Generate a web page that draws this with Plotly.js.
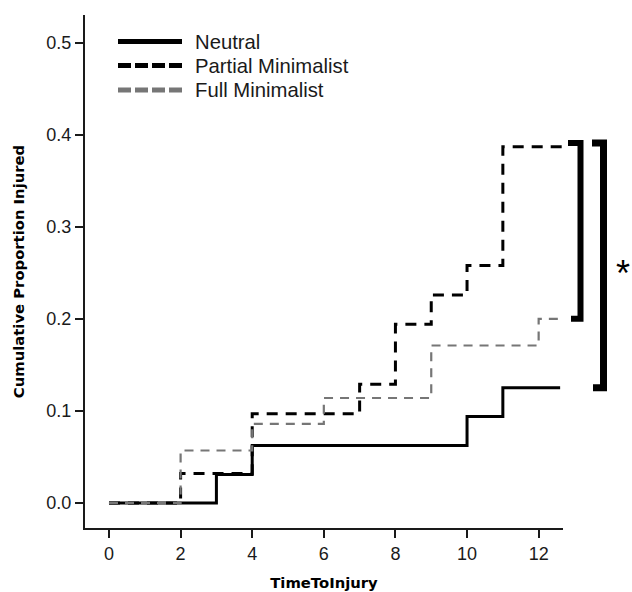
<!DOCTYPE html>
<html>
<head>
<meta charset="utf-8">
<script src="https://cdn.plot.ly/plotly-3.0.1.min.js"></script>
<style>html,body{margin:0;padding:0;background:#fff;}#chart{width:632px;height:592px;}</style>
</head>
<body>
<div id="chart"></div>
<script>
// Data (Kaplan-Meier style cumulative proportion injured)
const seriesNames = ["Neutral", "Partial Minimalist", "Full Minimalist"];
const neutralTime = [0, 3, 4, 10, 11, 12.6];
const neutralProp = [0, 0.031, 0.0625, 0.094, 0.125, 0.125];
const partialTime = [0, 2, 4, 7, 8, 9, 10, 11, 12.68];
const partialProp = [0, 0.032, 0.097, 0.129, 0.194, 0.226, 0.258, 0.387, 0.387];
const fullTime = [0, 2, 4, 6, 9, 12, 12.6];
const fullProp = [0, 0.057, 0.086, 0.114, 0.171, 0.2, 0.2];
const xTicks = [0, 2, 4, 6, 8, 10, 12];
const yTicks = [0, 0.1, 0.2, 0.3, 0.4, 0.5];
const yTickText = ["0.0", "0.1", "0.2", "0.3", "0.4", "0.5"];
const significanceMark = "*";

const gray = "#767676";
const ink = "#1a1a1a";

const traces = [
  {x: neutralTime, y: neutralProp, name: seriesNames[0], mode: "lines",
   line: {shape: "hv", color: "#000", width: 3}},
  {x: partialTime, y: partialProp, name: seriesNames[1], mode: "lines",
   line: {shape: "hv", color: "#000", width: 3, dash: "11px,8px"}},
  {x: fullTime, y: fullProp, name: seriesNames[2], mode: "lines",
   line: {shape: "hv", color: gray, width: 2.2, dash: "9px,7px"}}
];

const pTop = partialProp[partialProp.length - 1] + 0.004;
const fEnd = fullProp[fullProp.length - 1];
const nEnd = neutralProp[neutralProp.length - 1];

// plot-area geometry helpers for legend placement (paper coords)
const L = 85, R = 563, T = 15, B = 528;
const px = v => (v - L) / (R - L);
const py = v => (B - v) / (B - T);

const shapes = [
  // significance brackets
  {type: "path", xref: "paper", yref: "y",
   path: `M ${px(568)},${pTop} L ${px(580.5)},${pTop} L ${px(580.5)},${fEnd} L ${px(571)},${fEnd}`,
   line: {color: "#000", width: 6}},
  {type: "path", xref: "paper", yref: "y",
   path: `M ${px(592)},${pTop} L ${px(603.5)},${pTop} L ${px(603.5)},${nEnd} L ${px(593)},${nEnd}`,
   line: {color: "#000", width: 7}},
  // legend samples
  {type: "line", xref: "paper", yref: "paper", x0: px(118), x1: px(182), y0: py(41.5), y1: py(41.5),
   line: {color: "#000", width: 5}},
  {type: "line", xref: "paper", yref: "paper", x0: px(118), x1: px(182), y0: py(65.5), y1: py(65.5),
   line: {color: "#000", width: 5, dash: "13px,4px"}},
  {type: "line", xref: "paper", yref: "paper", x0: px(118), x1: px(182), y0: py(90), y1: py(90),
   line: {color: gray, width: 5, dash: "13px,4px"}}
];

const legFont = {family: "Liberation Sans, Arial, sans-serif", size: 20.3, color: ink};
const annotations = [
  {xref: "paper", yref: "paper", x: px(193), y: py(41.5), xanchor: "left", yanchor: "middle",
   text: seriesNames[0], showarrow: false, font: legFont},
  {xref: "paper", yref: "paper", x: px(193), y: py(65.5), xanchor: "left", yanchor: "middle",
   text: seriesNames[1], showarrow: false, font: legFont},
  {xref: "paper", yref: "paper", x: px(193), y: py(90), xanchor: "left", yanchor: "middle",
   text: seriesNames[2], showarrow: false, font: legFont},
  {xref: "paper", yref: "paper", x: px(623), y: py(273), xanchor: "center", yanchor: "middle",
   text: significanceMark, showarrow: false,
   font: {family: "Liberation Sans, Arial, sans-serif", size: 36, color: "#000"}}
];

const tickFont = {family: "Liberation Sans, Arial, sans-serif", size: 18, color: ink};
const titleFont = {family: "DejaVu Sans, sans-serif", size: 14.8, color: "#000", weight: "bold"};

const layout = {
  width: 632, height: 592,
  margin: {l: L, r: 632 - R, t: T, b: 592 - B, pad: 0},
  paper_bgcolor: "#fff", plot_bgcolor: "#fff",
  showlegend: false,
  xaxis: {
    range: [-0.67, 12.68], tickvals: xTicks, ticktext: xTicks.map(String),
    showgrid: false, zeroline: false, showline: true, linecolor: ink, linewidth: 2,
    ticks: "outside", ticklen: 8, tickwidth: 2, tickcolor: ink, tickfont: tickFont,
    title: {text: "TimeToInjury", font: titleFont, standoff: 15}
  },
  yaxis: {
    range: [-0.0272, 0.530], tickvals: yTicks, ticktext: yTickText,
    showgrid: false, zeroline: false, showline: true, linecolor: ink, linewidth: 2,
    ticks: "outside", ticklen: 8, tickwidth: 2, tickcolor: ink, tickfont: tickFont,
    title: {text: "Cumulative Proportion Injured", font: titleFont, standoff: 18}
  },
  shapes: shapes,
  annotations: annotations
};

Plotly.newPlot("chart", traces, layout, {displayModeBar: false, staticPlot: true});
</script>
</body>
</html>
